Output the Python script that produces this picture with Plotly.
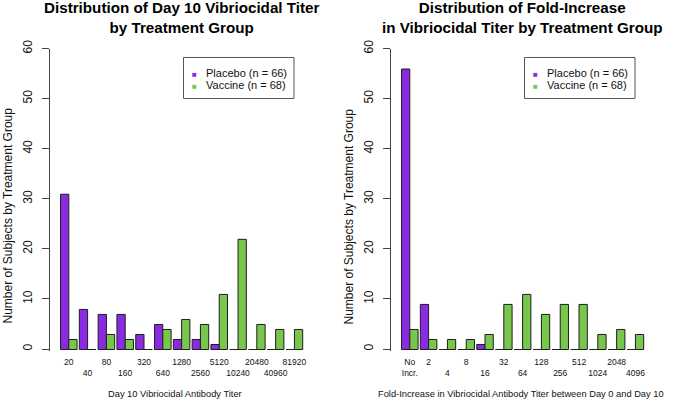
import plotly.graph_objects as go

W, H = 680, 401

# ---------------- data ----------------
titer_labels = ["20", "40", "80", "160", "320", "640", "1280", "2560",
                "5120", "10240", "20480", "40960", "81920"]
titer_placebo = [31, 8, 7, 7, 3, 5, 2, 2, 1, 0, 0, 0, 0]
titer_vaccine = [2, 0, 3, 2, 0, 4, 6, 5, 11, 22, 5, 4, 4]

fold_labels = ["No Incr.", "2", "4", "8", "16", "32", "64", "128", "256",
               "512", "1024", "2048", "4096"]
fold_placebo = [56, 9, 0, 0, 1, 0, 0, 0, 0, 0, 0, 0, 0]
fold_vaccine = [4, 2, 2, 2, 3, 9, 11, 7, 9, 9, 3, 4, 3]

y_ticks = [0, 10, 20, 30, 40, 50, 60]

group_names = ["Placebo (n = 66)", "Vaccine (n = 68)"]

# ---------------- style ----------------
FONT = "Liberation Sans, Arial, Helvetica, sans-serif"
PURPLE = "#8A2BE2"
GREEN = "#78C74C"
EDGE = "#1e1e1e"
AXIS = "#444444"


def px(x):
    return x / W


def py(y):
    return 1 - y / H


def stagger(labels, top_parity):
    out = []
    for i, lab in enumerate(labels):
        if lab == "No Incr.":
            out.append("No<br>Incr.")
        elif i % 2 == top_parity:
            out.append(lab)
        else:
            out.append("<br>" + lab)
    return out


fig = go.Figure()

panels = [
    dict(x="x", y="y", cats=titer_labels, pl=titer_placebo, va=titer_vaccine),
    dict(x="x2", y="y2", cats=fold_labels, pl=fold_placebo, va=fold_vaccine),
]
for p in panels:
    fig.add_trace(go.Bar(x=p["cats"], y=p["pl"], base=-0.1, xaxis=p["x"], yaxis=p["y"],
                         marker=dict(color=PURPLE, line=dict(color=EDGE, width=1)),
                         showlegend=False, name=group_names[0]))
    fig.add_trace(go.Bar(x=p["cats"], y=p["va"], base=-0.1, xaxis=p["x"], yaxis=p["y"],
                         marker=dict(color=GREEN, line=dict(color=EDGE, width=1)),
                         showlegend=False, name=group_names[1]))

Y0, Y60 = 349.0, 48.5
unit = (Y0 - Y60) / 60.0
ylo = -0.3
ybottom = Y0 - ylo * unit

offsets = [0, 341]


def xaxis_cfg(off, labels, parity):
    return dict(domain=[px(50 + off), px(320 + off)], type="category",
                range=[-1.0, 13.36], showline=False, ticks="", showgrid=False,
                zeroline=False, tickvals=labels, ticktext=stagger(labels, parity),
                tickfont=dict(size=8.5, color="#111", family=FONT), tickangle=0,
                ticklabelstandoff=5, automargin=False)


def yaxis_cfg():
    return dict(domain=[py(ybottom), py(Y60)], range=[ylo, 60], showline=True,
                linecolor=AXIS, linewidth=1, ticks="outside", ticklen=7,
                tickcolor=AXIS, tickwidth=1, tickvals=y_ticks, tickangle=-90,
                tickfont=dict(size=12, color="#111", family=FONT),
                ticklabelstandoff=5, automargin=False,
                showgrid=False, zeroline=False)


fig.update_layout(
    template="none",
    width=W, height=H, margin=dict(l=0, r=0, t=0, b=0, pad=0, autoexpand=False),
    paper_bgcolor="white", plot_bgcolor="white",
    barmode="group", bargap=0.12, bargroupgap=0,
    font=dict(family=FONT, color="#111"),
    showlegend=False,
    xaxis=dict(anchor="y", **xaxis_cfg(0, titer_labels, 0)),
    yaxis=dict(anchor="x", **yaxis_cfg()),
    xaxis2=dict(anchor="y2", **xaxis_cfg(341, fold_labels, 1)),
    yaxis2=dict(anchor="x2", **yaxis_cfg()),
)

titles = ["<b>Distribution of Day 10 Vibriocidal Titer<br>by Treatment Group</b>",
          "<b>Distribution of Fold-Increase<br>in Vibriocidal Titer by Treatment Group</b>"]
xtitles = ["Day 10 Vibriocidal Antibody Titer",
           "Fold-Increase in Vibriocidal Antibody Titer between Day 0 and Day 10"]
xtitle_cx = [175, 521]
ytitle = "Number of Subjects by Treatment Group"

ann = []
shapes = []
for k, off in enumerate(offsets):
    ann.append(dict(text=titles[k], x=px(181 + off), y=py(17.5), xref="paper", yref="paper",
                    xanchor="center", yanchor="middle", showarrow=False,
                    font=dict(size=15.2, color="#000", family=FONT)))
    ann.append(dict(text=xtitles[k], x=px(xtitle_cx[k]), y=py(394), xref="paper",
                    yref="paper", xanchor="center", yanchor="middle", showarrow=False,
                    font=dict(size=9.3, color="#111", family=FONT)))
    ann.append(dict(text=ytitle, x=px(7.5 + off), y=py(216), xref="paper", yref="paper",
                    xanchor="center", yanchor="middle", showarrow=False, textangle=-90,
                    font=dict(size=12, color="#111", family=FONT)))
    # legend frame and entries
    shapes.append(dict(type="rect", xref="paper", yref="paper",
                       x0=px(183.5 + off), x1=px(294 + off), y0=py(98.5), y1=py(57.5),
                       line=dict(color="#555", width=1), fillcolor="white"))
    for j, (col, name) in enumerate(zip([PURPLE, GREEN], group_names)):
        ann.append(dict(text=f"<span style='color:{col};font-size:8px'>■</span>\u00a0\u00a0\u00a0" + name,
                        x=px(190 + off), y=py(73 + 12 * j), xref="paper", yref="paper",
                        xanchor="left", yanchor="middle", showarrow=False,
                        font=dict(size=11, color="#111", family=FONT)))

fig.update_layout(annotations=ann, shapes=shapes)

fig.write_html("out.html", config={"displayModeBar": False},
               post_script="document.body.style.margin='0';")
